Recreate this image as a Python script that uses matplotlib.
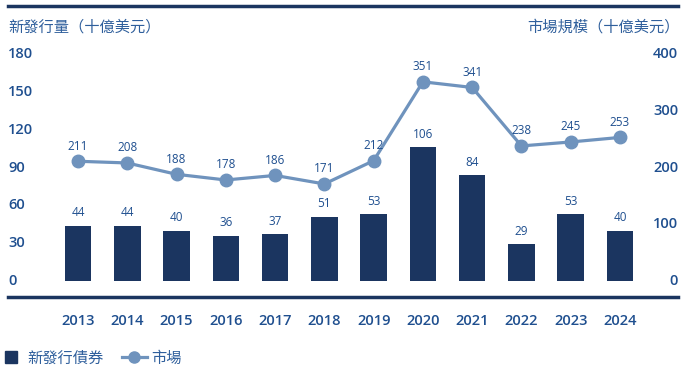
import matplotlib.pyplot as plt
import numpy as np
from matplotlib.lines import Line2D

plt.rcParams['font.family'] = ['Noto Sans CJK TC', 'DejaVu Sans']

# dados
anos = ['2013', '2014', '2015', '2016', '2017', '2018', '2019', '2020', '2021', '2022', '2023', '2024']
emissao = [44, 44, 40, 36, 37, 51, 53, 106, 84, 29, 53, 40]
mercado = [211, 208, 188, 178, 186, 171, 212, 351, 341, 238, 245, 253]
ticks_esq = [0, 30, 60, 90, 120, 150, 180]
ticks_dir = [0, 100, 200, 300, 400]

cor_barra = '#1b3560'
cor_linha = '#6f93bd'
cor_texto = '#1f4f8f'
fonte_num = ['Open Sans', 'DejaVu Sans']

W, H = 689, 378
fig = plt.figure(figsize=(W / 100, H / 100), dpi=100)

# eixo em pixels: x 8..678, y 6..297
ax = fig.add_axes([8 / W, 1 - 297 / H, 670 / W, 291 / H])
esc_x = (620 - 78) / 11
x0 = (8 - 78) / esc_x
x1 = (678 - 78) / esc_x
esc_y = (281 - 54) / 180
y0 = -(297 - 281) / esc_y
y1 = (281 - 6) / esc_y
ax.set_xlim(x0, x1)
ax.set_ylim(y0, y1)

x = np.arange(len(anos))
ax.bar(x, emissao, width=0.54, color=cor_barra, zorder=2)
for xi, v in zip(x, emissao):
    ax.text(xi, v + 5, str(v), ha='center', va='bottom', fontsize=8.5,
            fontweight='medium', color=cor_texto, family=fonte_num)

ax2 = ax.twinx()
ax2.set_position(ax.get_position())
ax2.set_ylim(y0 * 400 / 180, y1 * 400 / 180)
ax2.plot(x, mercado, color=cor_linha, lw=2.3, marker='o', ms=9, zorder=3)
for xi, v in zip(x, mercado):
    ax2.text(xi, v + 15, str(v), ha='center', va='bottom', fontsize=8.5,
             fontweight='medium', color=cor_texto, family=fonte_num)

for a in (ax, ax2):
    a.set_xticks([])
    a.set_yticks([])
    for s in ['left', 'right', 'top', 'bottom']:
        a.spines[s].set_visible(False)

# linhas de cima e de baixo
ax.axhline(y1, color=cor_barra, lw=2.5, clip_on=False)
ax.axhline(y0, color=cor_barra, lw=2.5, clip_on=False)

# rótulos dos eixos
for t in ticks_esq:
    ax.text(x0, t, str(t), ha='left', va='center', fontsize=10.5, fontweight='semibold',
            color=cor_texto, family=fonte_num)
for t in ticks_dir:
    ax2.text(x1, t, str(t), ha='right', va='center', fontsize=10.5, fontweight='semibold',
             color=cor_texto, family=fonte_num)
for xi, a in zip(x, anos):
    fig.text((78 + xi * esc_x) / W, 1 - 321 / H, a, ha='center', va='center',
             fontsize=10.5, fontweight='semibold', color=cor_texto, family=fonte_num)

fig.text(8 / W, 1 - 27 / H, '新發行量（十億美元）', ha='left', va='center',
         fontsize=11, color='#2f5f9c')
fig.text(680 / W, 1 - 27 / H, '市場規模（十億美元）', ha='right', va='center',
         fontsize=11, color='#2f5f9c')

handles = [Line2D([], [], color=cor_barra, lw=0, marker='s', ms=9, label='新發行債券'),
           Line2D([], [], color=cor_linha, lw=2.3, marker='o', ms=8, label='市場')]
fig.legend(handles=handles, loc='center left', bbox_to_anchor=(-0.022, 1 - 358 / H),
           ncol=2, frameon=False, fontsize=11, handlelength=1.6,
           columnspacing=1.2, handletextpad=0.3, labelcolor='#2f5f9c')

fig.savefig('out.png', dpi=100)
